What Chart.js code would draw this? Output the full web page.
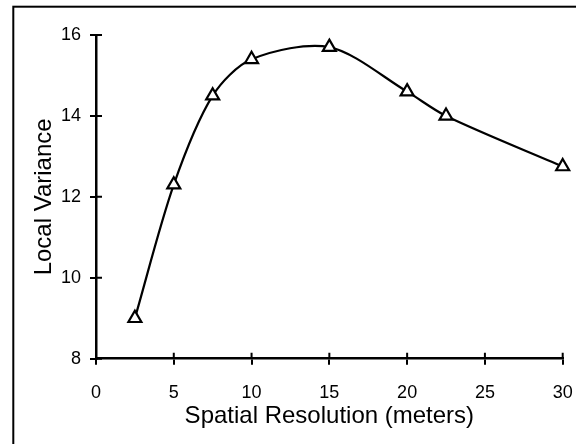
<!DOCTYPE html>
<html>
<head>
<meta charset="utf-8">
<script src="https://cdn.jsdelivr.net/npm/chart.js@4/dist/chart.umd.min.js"></script>
<style>
  html, body { margin: 0; padding: 0; background: #fff; }
  #wrap { width: 576px; height: 444px; position: relative; }
</style>
</head>
<body>
<div id="wrap"><canvas id="c" width="576" height="444"></canvas></div>
<script>
const resolutionMeters = [2.5, 5, 7.5, 10, 15, 20, 22.5, 30];
const localVariance = [9.0, 12.3, 14.5, 15.4, 15.7, 14.6, 14.0, 12.75];
const xTickValues = [0, 5, 10, 15, 20, 25, 30];
const yTickValues = [8, 10, 12, 14, 16];
const xTitle = 'Spatial Resolution (meters)';
const yTitle = 'Local Variance';

const FONT = "'Liberation Sans', Arial, sans-serif";

const framePlugin = {
  id: 'frame',
  beforeDraw(chart) {
    const ctx = chart.ctx;
    ctx.save();
    ctx.fillStyle = '#fff';
    ctx.fillRect(0, 0, chart.width, chart.height);
    ctx.strokeStyle = '#000';
    ctx.lineWidth = 2;
    ctx.strokeRect(13.3, 6.7, 700, 600);
    ctx.restore();
  },
  beforeDatasetsDraw(chart) {
    const ctx = chart.ctx;
    const xs = chart.scales.x, ys = chart.scales.y;
    ctx.save();
    ctx.strokeStyle = '#000';
    ctx.lineWidth = 2;
    ctx.beginPath();
    xs.ticks.forEach((t) => {
      const px = xs.getPixelForValue(t.value);
      ctx.moveTo(px, ys.bottom);
      ctx.lineTo(px, ys.bottom - 6);
    });
    ys.ticks.forEach((t) => {
      const py = ys.getPixelForValue(t.value);
      ctx.moveTo(xs.left, py);
      ctx.lineTo(xs.left + 6, py);
    });
    ctx.stroke();
    ctx.restore();
  }
};

new Chart(document.getElementById('c'), {
  type: 'line',
  data: {
    datasets: [{
      data: resolutionMeters.map((x, i) => ({ x: x, y: localVariance[i] })),
      borderColor: '#000',
      borderWidth: 2.2,
      tension: 0.3,
      fill: false,
      clip: false,
      pointStyle: 'triangle',
      pointRadius: 7.5,
      pointBorderWidth: 2.2,
      pointBackgroundColor: '#fff',
      pointBorderColor: '#000'
    }]
  },
  options: {
    responsive: false,
    animation: false,
    devicePixelRatio: 1,
    layout: { padding: { left: 0, top: 35, right: 13.3, bottom: 0 } },
    plugins: { legend: { display: false }, tooltip: { enabled: false } },
    scales: {
      x: {
        type: 'linear',
        min: 0, max: 30,
        afterBuildTicks(scale) { scale.ticks = xTickValues.map(v => ({ value: v })); },
        afterFit(scale) { scale.height = 85.3; scale.paddingLeft = 0; scale.paddingRight = 0; },
        ticks: { color: '#000', padding: 18, font: { family: FONT, size: 18 }, maxRotation: 0 },
        grid: { drawOnChartArea: false, drawTicks: true, tickLength: 6, color: '#000', lineWidth: 2 },
        border: { display: true, color: '#000', width: 2.5 },
        title: { display: true, text: xTitle, color: '#000', font: { family: FONT, size: 24 }, padding: { top: 0, bottom: 13.6 } }
      },
      y: {
        type: 'linear',
        min: 8, max: 16,
        afterBuildTicks(scale) { scale.ticks = yTickValues.map(v => ({ value: v })); },
        afterFit(scale) { scale.width = 96; scale.paddingTop = 0; scale.paddingBottom = 0; },
        ticks: { color: '#000', padding: 9, font: { family: FONT, size: 18 } },
        grid: { drawOnChartArea: false, drawTicks: true, tickLength: 6, color: '#000', lineWidth: 2 },
        border: { display: true, color: '#000', width: 2.5 },
        title: { display: true, text: yTitle, color: '#000', font: { family: FONT, size: 24 }, padding: { top: 29.6, bottom: 0 } }
      }
    }
  },
  plugins: [framePlugin]
});
</script>
</body>
</html>
